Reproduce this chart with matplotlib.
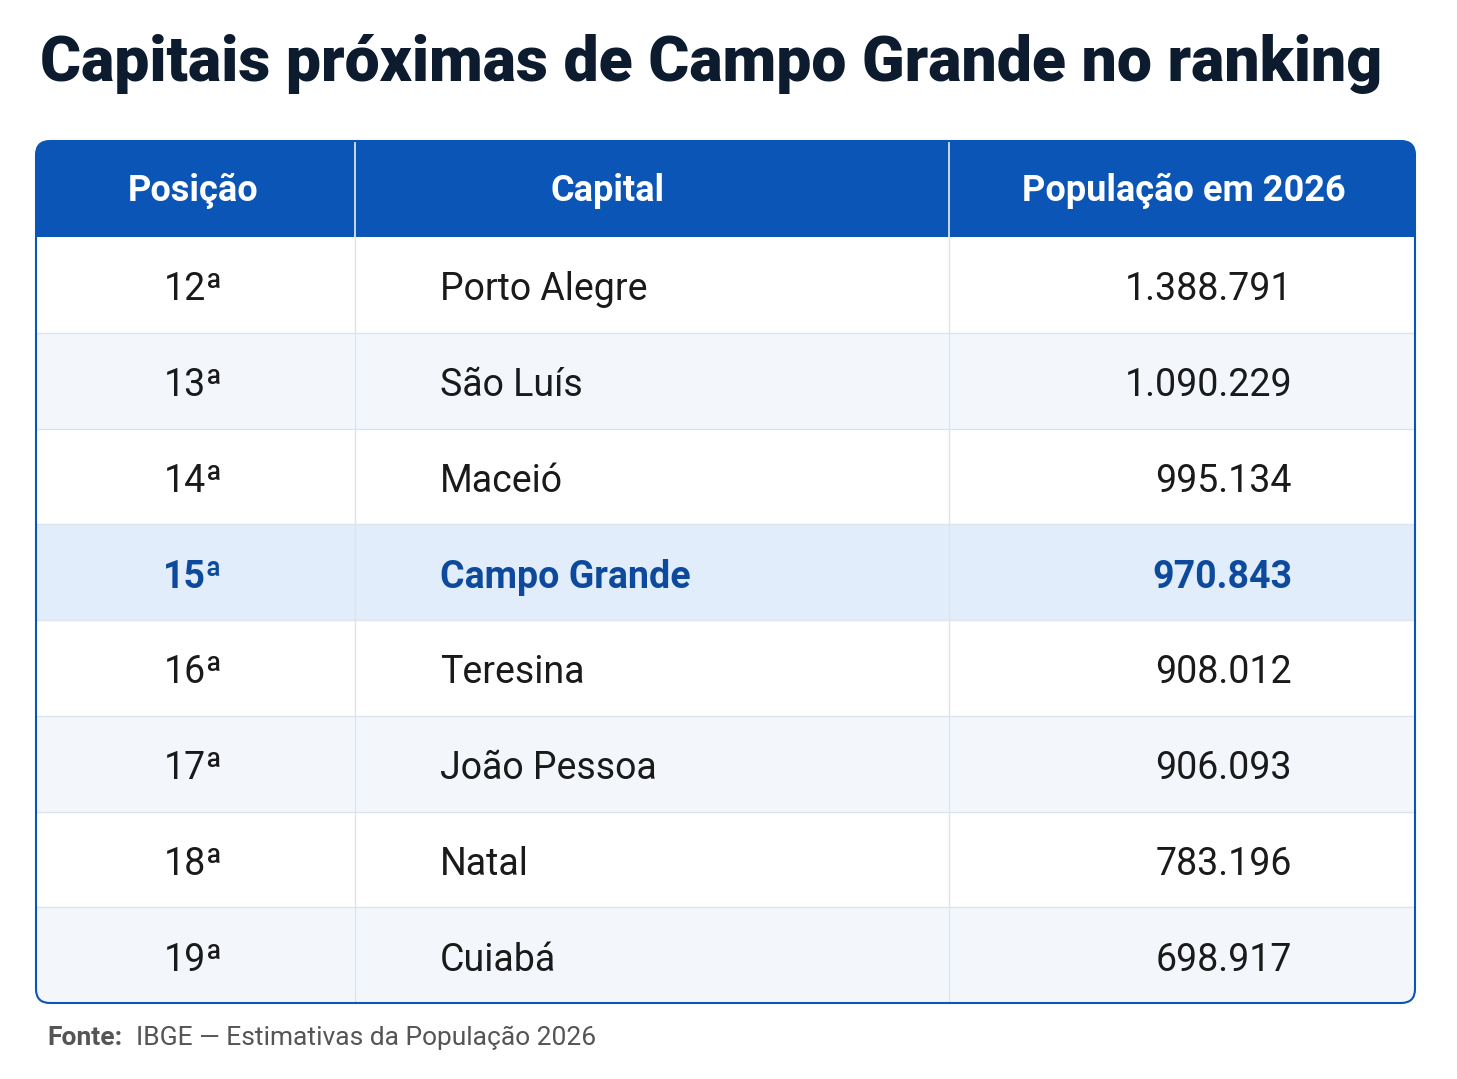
import matplotlib
matplotlib.use("Agg")
import matplotlib.pyplot as plt
from matplotlib.patches import FancyBboxPatch, Rectangle

positions = ["12ª", "13ª", "14ª", "15ª", "16ª", "17ª", "18ª", "19ª"]
capitals = ["Porto Alegre", "São Luís", "Maceió", "Campo Grande", "Teresina",
            "João Pessoa", "Natal", "Cuiabá"]
populations = ["1.388.791", "1.090.229", "995.134", "970.843", "908.012",
               "906.093", "783.196", "698.917"]
headers = ["Posição", "Capital", "População em 2026"]
highlight = "Campo Grande"

plt.rcParams['font.family'] = ['Roboto', 'DejaVu Sans']
fig = plt.figure(figsize=(14.57, 10.79), dpi=100)
ax = fig.add_axes([0, 0, 1, 1])
ax.set_xlim(0, 1457); ax.set_ylim(1079, 0); ax.axis('off')

blue = "#0a55b6"
L, R, T, HB, B = 36, 1415, 141, 237, 1003
c1, c2 = 355, 949
row_h = (B - HB) / len(capitals)

ax.text(40, 64, "Capitais próximas de Campo Grande no ranking", fontsize=45,
        fontweight='black', color="#0d1b2e", va='center', ha='left')

box = FancyBboxPatch((L, T), R - L, B - T, boxstyle="round,pad=0,rounding_size=14",
                     facecolor='white', edgecolor='none', zorder=1)
ax.add_patch(box)
hdr = Rectangle((L, T), R - L, HB - T, facecolor=blue, edgecolor='none', zorder=2)
ax.add_patch(hdr); hdr.set_clip_path(box)
for i, cap in enumerate(capitals):
    y0 = HB + i * row_h
    if cap == highlight:
        fc = "#e1edfa"
    else:
        fc = "white" if i % 2 == 0 else "#f3f7fc"
    r = Rectangle((L, y0), R - L, row_h, facecolor=fc, edgecolor='none', zorder=2)
    ax.add_patch(r); r.set_clip_path(box)
    if i > 0:
        ax.plot([L, R], [y0, y0], color="#dde4ee", lw=1, zorder=3)
    hl = cap == highlight
    col = "#0d4a9e" if hl else "#1a1a1a"
    fw = 'bold' if hl else 'normal'
    yc = y0 + row_h / 2 + 5
    ax.text(193, yc, positions[i], fontsize=27, color=col, fontweight=fw, ha='center', va='center', zorder=4)
    ax.text(440, yc, cap, fontsize=27, color=col, fontweight=fw, ha='left', va='center', zorder=4)
    ax.text(1292, yc, populations[i], fontsize=27, color=col, fontweight=fw, ha='right', va='center', zorder=4)

for x in (c1, c2):
    ax.plot([x, x], [T, HB], color="#e8eef7", lw=1.2, zorder=3)
    ax.plot([x, x], [HB, B], color="#dde4ee", lw=1, zorder=3)

for xc, h in zip([193, 608, 1184], headers):
    ax.text(xc, (T + HB) / 2 + 2, h, fontsize=26, fontweight='bold', color='white',
            ha='center', va='center', zorder=4)

border = FancyBboxPatch((L, T), R - L, B - T, boxstyle="round,pad=0,rounding_size=14",
                        facecolor='none', edgecolor=blue, lw=1.5, zorder=5)
ax.add_patch(border)

ax.text(47, 1038, "Fonte:", fontsize=19, fontweight='bold', color="#555555", va='center', ha='left')
ax.text(136, 1038, "IBGE — Estimativas da População 2026", fontsize=19, color="#555555",
        va='center', ha='left')

fig.savefig("out.png", dpi=100)
